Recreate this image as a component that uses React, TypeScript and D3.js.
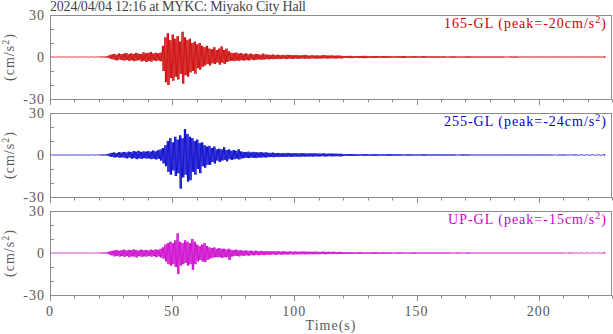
import React from "react";
import * as d3 from "d3";

// ---------- data ----------
const title = "2024/04/04 12:16 at MYKC: Miyako City Hall";
const channelNames = ["165-GL", "255-GL", "UP-GL"];
const channelPeaks = [-20, -24, -15];
const channelColors = ["#cc0000", "#0000cc", "#cc00cc"];
const xTicks = [0, 50, 100, 150, 200];
const yTickLabels = [30, 0, -30];
const timeEnd = 227;

// quiet pre-event (t = 0..18, step 2), amplitude in cm/s^2
const preAmp = [
  [0.1, 0.1, 0.1, 0.1, 0.1, 0.1, 0.1, 0.1, 0.15, 0.15],
  [0.1, 0.1, 0.1, 0.1, 0.1, 0.1, 0.1, 0.1, 0.15, 0.15],
  [0.1, 0.1, 0.1, 0.1, 0.1, 0.1, 0.1, 0.1, 0.15, 0.15],
];

// main record, 1 s steps from t = 20 to 119: peak up / peak down per second
const redUp = [
  0.3, 0.4, 0.3, 0.5, 1.2, 1.8, 2.2, 1.6, 2.5, 2.0,
  2.4, 2.8, 2.0, 2.6, 2.2, 3.0, 2.4, 2.1, 3.4, 2.6,
  3.0, 3.6, 2.5, 3.0, 2.6, 3.2, 8.0, 14.0, 17.0, 12.0,
  16.0, 13.0, 15.0, 11.0, 18.0, 14.0, 12.0, 13.0, 10.0, 11.0,
  9.0, 10.0, 8.0, 7.0, 8.0, 6.0, 5.5, 7.0, 5.0, 6.0,
  7.5, 5.0, 6.0, 4.0, 3.0, 2.8, 3.2, 2.4, 2.8, 2.2,
  2.6, 2.0, 2.4, 1.8, 2.2, 2.0, 1.6, 2.4, 1.8, 1.6,
  1.5, 1.8, 1.4, 1.6, 1.3, 1.5, 1.2, 1.6, 1.3, 1.4,
  1.2, 1.4, 1.1, 1.3, 1.5, 1.2, 1.0, 1.3, 1.1, 1.2,
  1.0, 1.2, 1.4, 1.1, 1.0, 1.2, 0.9, 1.1, 1.0, 0.9,
];
const redLo = [
  -0.3, -0.3, -0.4, -0.5, -1.0, -1.6, -2.0, -2.4, -1.8, -2.2,
  -2.6, -2.0, -2.8, -2.3, -3.0, -2.5, -2.2, -3.2, -2.6, -3.6,
  -2.8, -3.4, -2.4, -2.9, -2.5, -3.0, -10.0, -18.0, -20.0, -15.0,
  -17.0, -14.0, -16.0, -12.0, -19.0, -13.0, -14.0, -11.0, -10.0, -12.0,
  -8.0, -9.0, -7.0, -6.0, -5.0, -6.0, -4.5, -5.0, -4.0, -5.5,
  -4.0, -5.0, -3.5, -3.0, -2.6, -3.0, -2.4, -2.8, -2.2, -2.6,
  -2.2, -2.4, -1.8, -2.2, -2.0, -1.6, -2.0, -1.8, -1.5, -1.7,
  -1.4, -1.6, -1.3, -1.5, -1.4, -1.2, -1.5, -1.3, -1.2, -1.4,
  -1.1, -1.3, -1.2, -1.0, -1.3, -1.1, -1.2, -1.0, -1.1, -1.2,
  -1.0, -1.1, -0.9, -1.2, -1.0, -0.9, -1.1, -1.0, -0.9, -1.0,
];
const blueUp = [
  0.3, 0.3, 0.4, 0.5, 1.0, 1.5, 1.8, 1.4, 2.0, 1.8,
  2.2, 1.8, 2.4, 2.0, 2.8, 2.4, 3.0, 2.2, 2.6, 2.4,
  2.8, 2.4, 3.2, 2.6, 3.4, 4.0, 5.0, 7.0, 10.0, 12.0,
  9.0, 13.0, 11.0, 14.0, 12.0, 18.5, 15.0, 13.0, 12.0, 10.0,
  11.0, 8.5, 9.0, 7.0, 6.0, 6.5, 5.0, 6.0, 4.0, 4.5,
  4.0, 5.5, 3.5, 4.0, 3.0, 3.5, 3.0, 4.0, 2.5, 2.2,
  2.0, 2.4, 1.8, 2.2, 2.0, 1.8, 2.1, 1.7, 1.9, 1.6,
  1.5, 1.7, 1.4, 1.5, 1.3, 1.4, 1.2, 1.5, 1.2, 1.3,
  1.2, 1.3, 1.1, 1.4, 1.2, 1.0, 1.2, 1.1, 1.3, 1.0,
  1.1, 1.0, 1.2, 0.9, 1.0, 1.1, 0.9, 1.0, 0.8, 0.9,
];
const blueLo = [
  -0.3, -0.4, -0.3, -0.5, -1.0, -1.4, -1.8, -1.5, -2.0, -1.6,
  -2.0, -2.4, -1.8, -2.6, -2.2, -3.0, -2.4, -2.8, -2.2, -2.6,
  -2.4, -3.0, -2.6, -3.2, -2.8, -4.0, -6.0, -8.0, -12.0, -14.0,
  -11.0, -15.0, -13.0, -24.0, -16.0, -14.0, -19.0, -18.0, -12.0, -14.0,
  -10.0, -13.0, -8.0, -9.0, -7.0, -7.0, -5.0, -6.0, -4.0, -5.0,
  -4.0, -3.5, -4.5, -3.0, -3.5, -3.0, -2.6, -3.2, -2.4, -2.2,
  -2.0, -2.2, -1.8, -2.0, -2.2, -1.7, -1.9, -1.6, -1.8, -1.5,
  -1.4, -1.6, -1.3, -1.5, -1.2, -1.4, -1.3, -1.2, -1.4, -1.1,
  -1.2, -1.1, -1.3, -1.0, -1.2, -1.1, -1.0, -1.2, -0.9, -1.1,
  -1.0, -0.9, -1.1, -1.0, -0.8, -1.0, -0.9, -0.8, -1.0, -0.9,
];
const magUp = [
  0.3, 0.3, 0.4, 0.5, 1.0, 1.5, 1.8, 2.2, 1.6, 2.0,
  2.4, 1.8, 2.2, 2.0, 2.6, 2.0, 1.8, 2.4, 2.0, 2.2,
  1.8, 2.4, 2.0, 2.6, 2.2, 3.0, 4.0, 6.0, 7.0, 8.0,
  7.0, 9.0, 14.0, 8.0, 7.0, 9.0, 8.0, 7.0, 10.0, 8.0,
  6.0, 5.0, 6.0, 7.0, 5.0, 4.0, 3.5, 4.0, 3.0, 3.5,
  3.0, 3.0, 2.5, 3.0, 2.2, 2.0, 2.4, 1.8, 2.0, 1.6,
  1.8, 1.5, 1.7, 1.4, 1.6, 1.3, 1.5, 1.2, 1.4, 1.2,
  1.3, 1.1, 1.2, 1.3, 1.0, 1.2, 1.1, 1.0, 1.2, 0.9,
  1.1, 1.0, 0.9, 1.1, 1.0, 0.9, 1.0, 0.8, 1.0, 0.9,
  0.8, 0.9, 1.0, 0.8, 0.9, 0.8, 0.9, 0.7, 0.8, 0.8,
];
const magLo = [
  -0.3, -0.4, -0.3, -0.5, -1.2, -1.8, -2.4, -2.0, -2.6, -2.2,
  -2.8, -2.2, -3.0, -2.4, -2.6, -3.2, -2.2, -2.8, -2.4, -2.6,
  -2.0, -2.6, -2.2, -3.0, -2.4, -3.2, -4.0, -6.0, -8.0, -9.0,
  -8.0, -10.0, -15.0, -9.0, -8.0, -7.0, -9.0, -8.0, -12.0, -8.0,
  -6.0, -5.0, -6.0, -6.5, -5.0, -4.0, -3.5, -3.0, -3.0, -3.0,
  -3.5, -3.0, -3.0, -5.0, -2.5, -2.2, -2.0, -2.4, -1.8, -2.0,
  -1.7, -1.9, -1.5, -1.7, -1.4, -1.6, -1.3, -1.5, -1.2, -1.3,
  -1.2, -1.1, -1.3, -1.0, -1.2, -1.1, -1.0, -1.1, -0.9, -1.0,
  -1.0, -0.9, -1.0, -0.8, -1.0, -0.9, -0.8, -0.9, -0.8, -0.9,
  -0.8, -0.7, -0.9, -0.8, -0.7, -0.8, -0.7, -0.8, -0.7, -0.7,
];

// quiet coda (t = 120..226, step 2), amplitude
const redTail = [
  0.7, 0.8, 0.6, 0.7, 0.8, 0.6, 0.7, 0.6, 0.7, 0.6,
  0.5, 0.6, 0.7, 0.5, 0.6, 0.5, 0.6, 0.5, 0.5, 0.5,
  0.5, 0.4, 0.5, 0.4, 0.4, 0.5, 0.4, 0.4, 0.4, 0.4,
  0.4, 0.4, 0.4, 0.3, 0.4, 0.4, 0.3, 0.3, 0.3, 0.3,
  0.3, 0.3, 0.3, 0.3, 0.3, 0.3, 0.3, 0.3, 0.3, 0.3,
  0.3, 0.3, 0.3, 0.3,
];
const blueTail = [
  0.6, 0.7, 0.6, 0.5, 0.6, 0.5, 0.6, 0.5, 0.5, 0.6,
  0.5, 0.5, 0.4, 0.5, 0.4, 0.4, 0.5, 0.4, 0.4, 0.4,
  0.4, 0.4, 0.4, 0.3, 0.4, 0.4, 0.3, 0.3, 0.3, 0.3,
  0.3, 0.3, 0.3, 0.3, 0.3, 0.3, 0.3, 0.3, 0.3, 0.3,
  0.3, 0.3, 0.3, 0.2, 0.3, 0.3, 0.2, 0.3, 0.2, 0.2,
  0.2, 0.2, 0.2, 0.2,
];
const magTail = [
  0.6, 0.6, 0.5, 0.6, 0.5, 0.5, 0.6, 0.5, 0.5, 0.5,
  0.4, 0.5, 0.4, 0.4, 0.5, 0.4, 0.4, 0.4, 0.4, 0.4,
  0.4, 0.4, 0.3, 0.4, 0.3, 0.4, 0.3, 0.3, 0.3, 0.3,
  0.3, 0.3, 0.3, 0.3, 0.3, 0.3, 0.3, 0.3, 0.3, 0.3,
  0.3, 0.3, 0.3, 0.3, 0.3, 0.2, 0.3, 0.2, 0.2, 0.2,
  0.2, 0.2, 0.2, 0.2,
];

const mainUp = [redUp, blueUp, magUp];
const mainLo = [redLo, blueLo, magLo];
const tailAmp = [redTail, blueTail, magTail];

// ---------- layout ----------
const W = 613;
const H = 334;
const left = 50;
const right = 612;
const panelTops = [15, 113, 211];
const panelH = 84;
const frameColor = "#8c8c8c";
const textColor = "#5a5a5a";
const font = "'Liberation Serif', 'Times New Roman', serif";
const sub = 0.25; // drawing sub-step (s) between alternating peaks

function buildSeries(i: number): [number, number][] {
  const pts: [number, number][] = [];
  // each bin [t, t+step] is drawn as alternating up/down peaks every `sub` seconds
  const addBin = (t: number, step: number, up: number, lo: number) => {
    const n = Math.round(step / sub);
    for (let k = 0; k < n; k++) {
      const tt = Math.min(t + k * sub, timeEnd);
      pts.push([tt, k % 2 === 0 ? up : lo]);
    }
  };
  preAmp[i].forEach((a, k) => addBin(k * 2, 2, a, -a));
  mainUp[i].forEach((u, k) => addBin(20 + k, 1, u, mainLo[i][k]));
  tailAmp[i].forEach((a, k) => addBin(120 + k * 2, 2, a, -a));
  pts.push([timeEnd, 0]);
  return pts;
}

export default function App() {
  const x = d3.scaleLinear().domain([0, 230]).range([left, right]);
  const minorX = d3.range(0, 231, 10);

  return (
    <svg
      width={W}
      height={H}
      style={{ position: "absolute", left: 0, top: 0, background: "#fff" }}
      fontFamily={font}
    >
      <text
        x={50}
        y={11}
        fontSize={14}
        fill="#444"
        textLength={256}
        lengthAdjust="spacing"
      >
        {title}
      </text>
      {panelTops.map((top, i) => {
        const y = d3.scaleLinear().domain([-30, 30]).range([top + panelH, top]);
        const line = d3
          .line<[number, number]>()
          .x((d) => x(d[0]))
          .y((d) => y(d[1]));
        const pts = buildSeries(i);
        return (
          <g key={i}>
            <path
              d={line(pts) || ""}
              fill="none"
              stroke={channelColors[i]}
              strokeWidth={0.8}
            />
            <rect
              x={left + 0.5}
              y={top + 0.5}
              width={right - left - 1}
              height={panelH}
              fill="none"
              stroke={frameColor}
              strokeWidth={1}
            />
            {[-20, -10, 10, 20].map((v) => (
              <line
                key={v}
                x1={left}
                x2={left + 4}
                y1={Math.round(y(v)) + 0.5}
                y2={Math.round(y(v)) + 0.5}
                stroke={frameColor}
              />
            ))}
            {minorX.map((v) => (
              <line
                key={v}
                x1={Math.round(x(v)) + 0.5}
                x2={Math.round(x(v)) + 0.5}
                y1={top + panelH + 0.5}
                y2={top + panelH + (v % 50 === 0 ? 6 : 3.5)}
                stroke={frameColor}
              />
            ))}
            {yTickLabels.map((v) => (
              <text
                key={v}
                x={45}
                y={y(v) + 5}
                textAnchor="end"
                fontSize={14}
                letterSpacing={1}
                fill={textColor}
              >
                {v}
              </text>
            ))}
            <text
              transform={`translate(14, ${top + panelH / 2}) rotate(-90)`}
              textAnchor="middle"
              fontSize={14}
              letterSpacing={1}
              fill={textColor}
            >
              (cm/s<tspan dy={-5} fontSize={10}>2</tspan>
              <tspan dy={5}>)</tspan>
            </text>
            <text
              x={607}
              y={top + 13}
              textAnchor="end"
              fontSize={14}
              letterSpacing={1}
              fill={channelColors[i]}
            >
              {`${channelNames[i]} (peak=${channelPeaks[i]}cm/s`}
              <tspan dy={-5} fontSize={10}>2</tspan>
              <tspan dy={5}>)</tspan>
            </text>
          </g>
        );
      })}
      {xTicks.map((v) => (
        <text
          key={v}
          x={x(v)}
          y={316}
          textAnchor="middle"
          fontSize={14}
          letterSpacing={1}
          fill={textColor}
        >
          {v}
        </text>
      ))}
      <text
        x={(left + right) / 2}
        y={330}
        textAnchor="middle"
        fontSize={14}
        letterSpacing={1}
        fill={textColor}
      >
        Time(s)
      </text>
    </svg>
  );
}
